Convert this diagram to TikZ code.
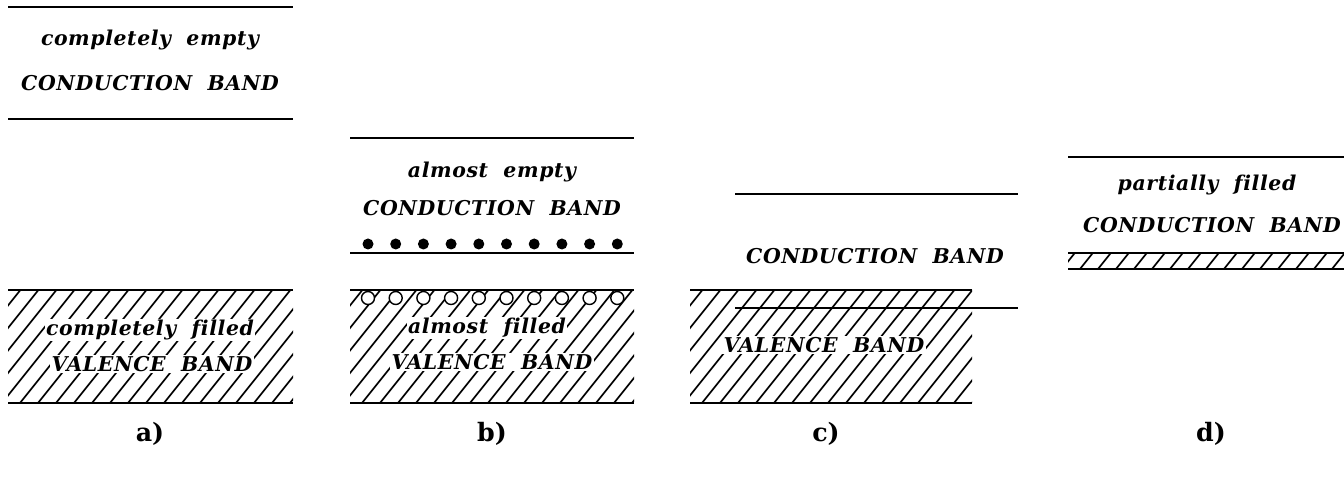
\documentclass[tikz,border=0pt]{standalone}
\usepackage{fontspec}
\newfontfamily\bandfont[LetterSpace=3, WordSpace=2, Ligatures=NoCommon]{DejaVu Serif}
\newfontfamily\panelfont{DejaVu Serif}

\tikzset{
  band/.style={line width=1.5pt},
  hatchline/.style={line width=1.2pt},
  bandtext/.style={font=\bandfont\bfseries\itshape\fontsize{14.5}{17}\selectfont, fill=white, inner sep=1pt},
  panel/.style={font=\panelfont\bfseries\fontsize{18}{21}\selectfont},
}
% hatched region: x1, y1 (top), x2, y2 (bottom)
\newcommand{\hatchbox}[4]{%
  \begin{scope}
    \clip (#1,#2) rectangle (#3,#4);
    \pgfmathsetmacro{\hdx}{(#4-#2)/1.25}
    \foreach \x in {-150,-132,...,320} { \draw[hatchline] ({#1+\x},#4) -- ++(\hdx,{#2-#4}); }
  \end{scope}}

\begin{document}
\begin{tikzpicture}[x=0.025cm, y=-0.025cm]
  \useasboundingbox (0,0) rectangle (1344,478);
  % a)
  \draw[band] (8,7) -- (293,7);
  \draw[band] (8,119) -- (293,119);
  \hatchbox{8}{290}{293}{403}
  \draw[band] (8,290) -- (293,290);
  \draw[band] (8,403) -- (293,403);
  \node[bandtext] (aempty) at (150,40) {completely empty};
  \node[bandtext] (acb) at (150,83) {CONDUCTION BAND};
  \node[bandtext] (afilled) at (150,330) {completely filled};
  \node[bandtext] (avb) at (152,364) {VALENCE BAND};
  \node[panel] (a) at (150,434) {a)};
  % b)
  \draw[band] (350,138) -- (634,138);
  \draw[band] (350,253) -- (634,253);
  \hatchbox{350}{290}{634}{403}
  \draw[band] (350,290) -- (634,290);
  \draw[band] (350,403) -- (634,403);
  \foreach \i in {0,...,9} {
    \fill ({368+27.7*\i},244) circle (5.5);
    \draw[line width=1pt, fill=white] ({368+27.7*\i},298) circle (6.5);
  }
  \node[bandtext] (bempty) at (492,172) {almost empty};
  \node[bandtext] (bcb) at (492,208) {CONDUCTION BAND};
  \node[bandtext] (bfilled) at (487,328) {almost filled};
  \node[bandtext] (bvb) at (492,362) {VALENCE BAND};
  \node[panel] (b) at (492,434) {b)};
  % c)
  \hatchbox{690}{290}{972}{403}
  \draw[band] (690,290) -- (972,290);
  \draw[band] (690,403) -- (972,403);
  \draw[band] (735,194) -- (1018,194);
  \draw[band] (735,308) -- (1018,308);
  \node[bandtext] (ccb) at (875,256) {CONDUCTION BAND};
  \node[bandtext] (cvb) at (824,345) {VALENCE BAND};
  \node[panel] (c) at (826,434) {c)};
  % d)
  \draw[band] (1068,157) -- (1344,157);
  \hatchbox{1068}{253}{1344}{269}
  \draw[band] (1068,253) -- (1344,253);
  \draw[band] (1068,269) -- (1344,269);
  \node[bandtext] (dfilled) at (1207,185) {partially filled};
  \node[bandtext] (dcb) at (1212,225) {CONDUCTION BAND};
  \node[panel] (d) at (1211,434) {d)};
\end{tikzpicture}
\end{document}
